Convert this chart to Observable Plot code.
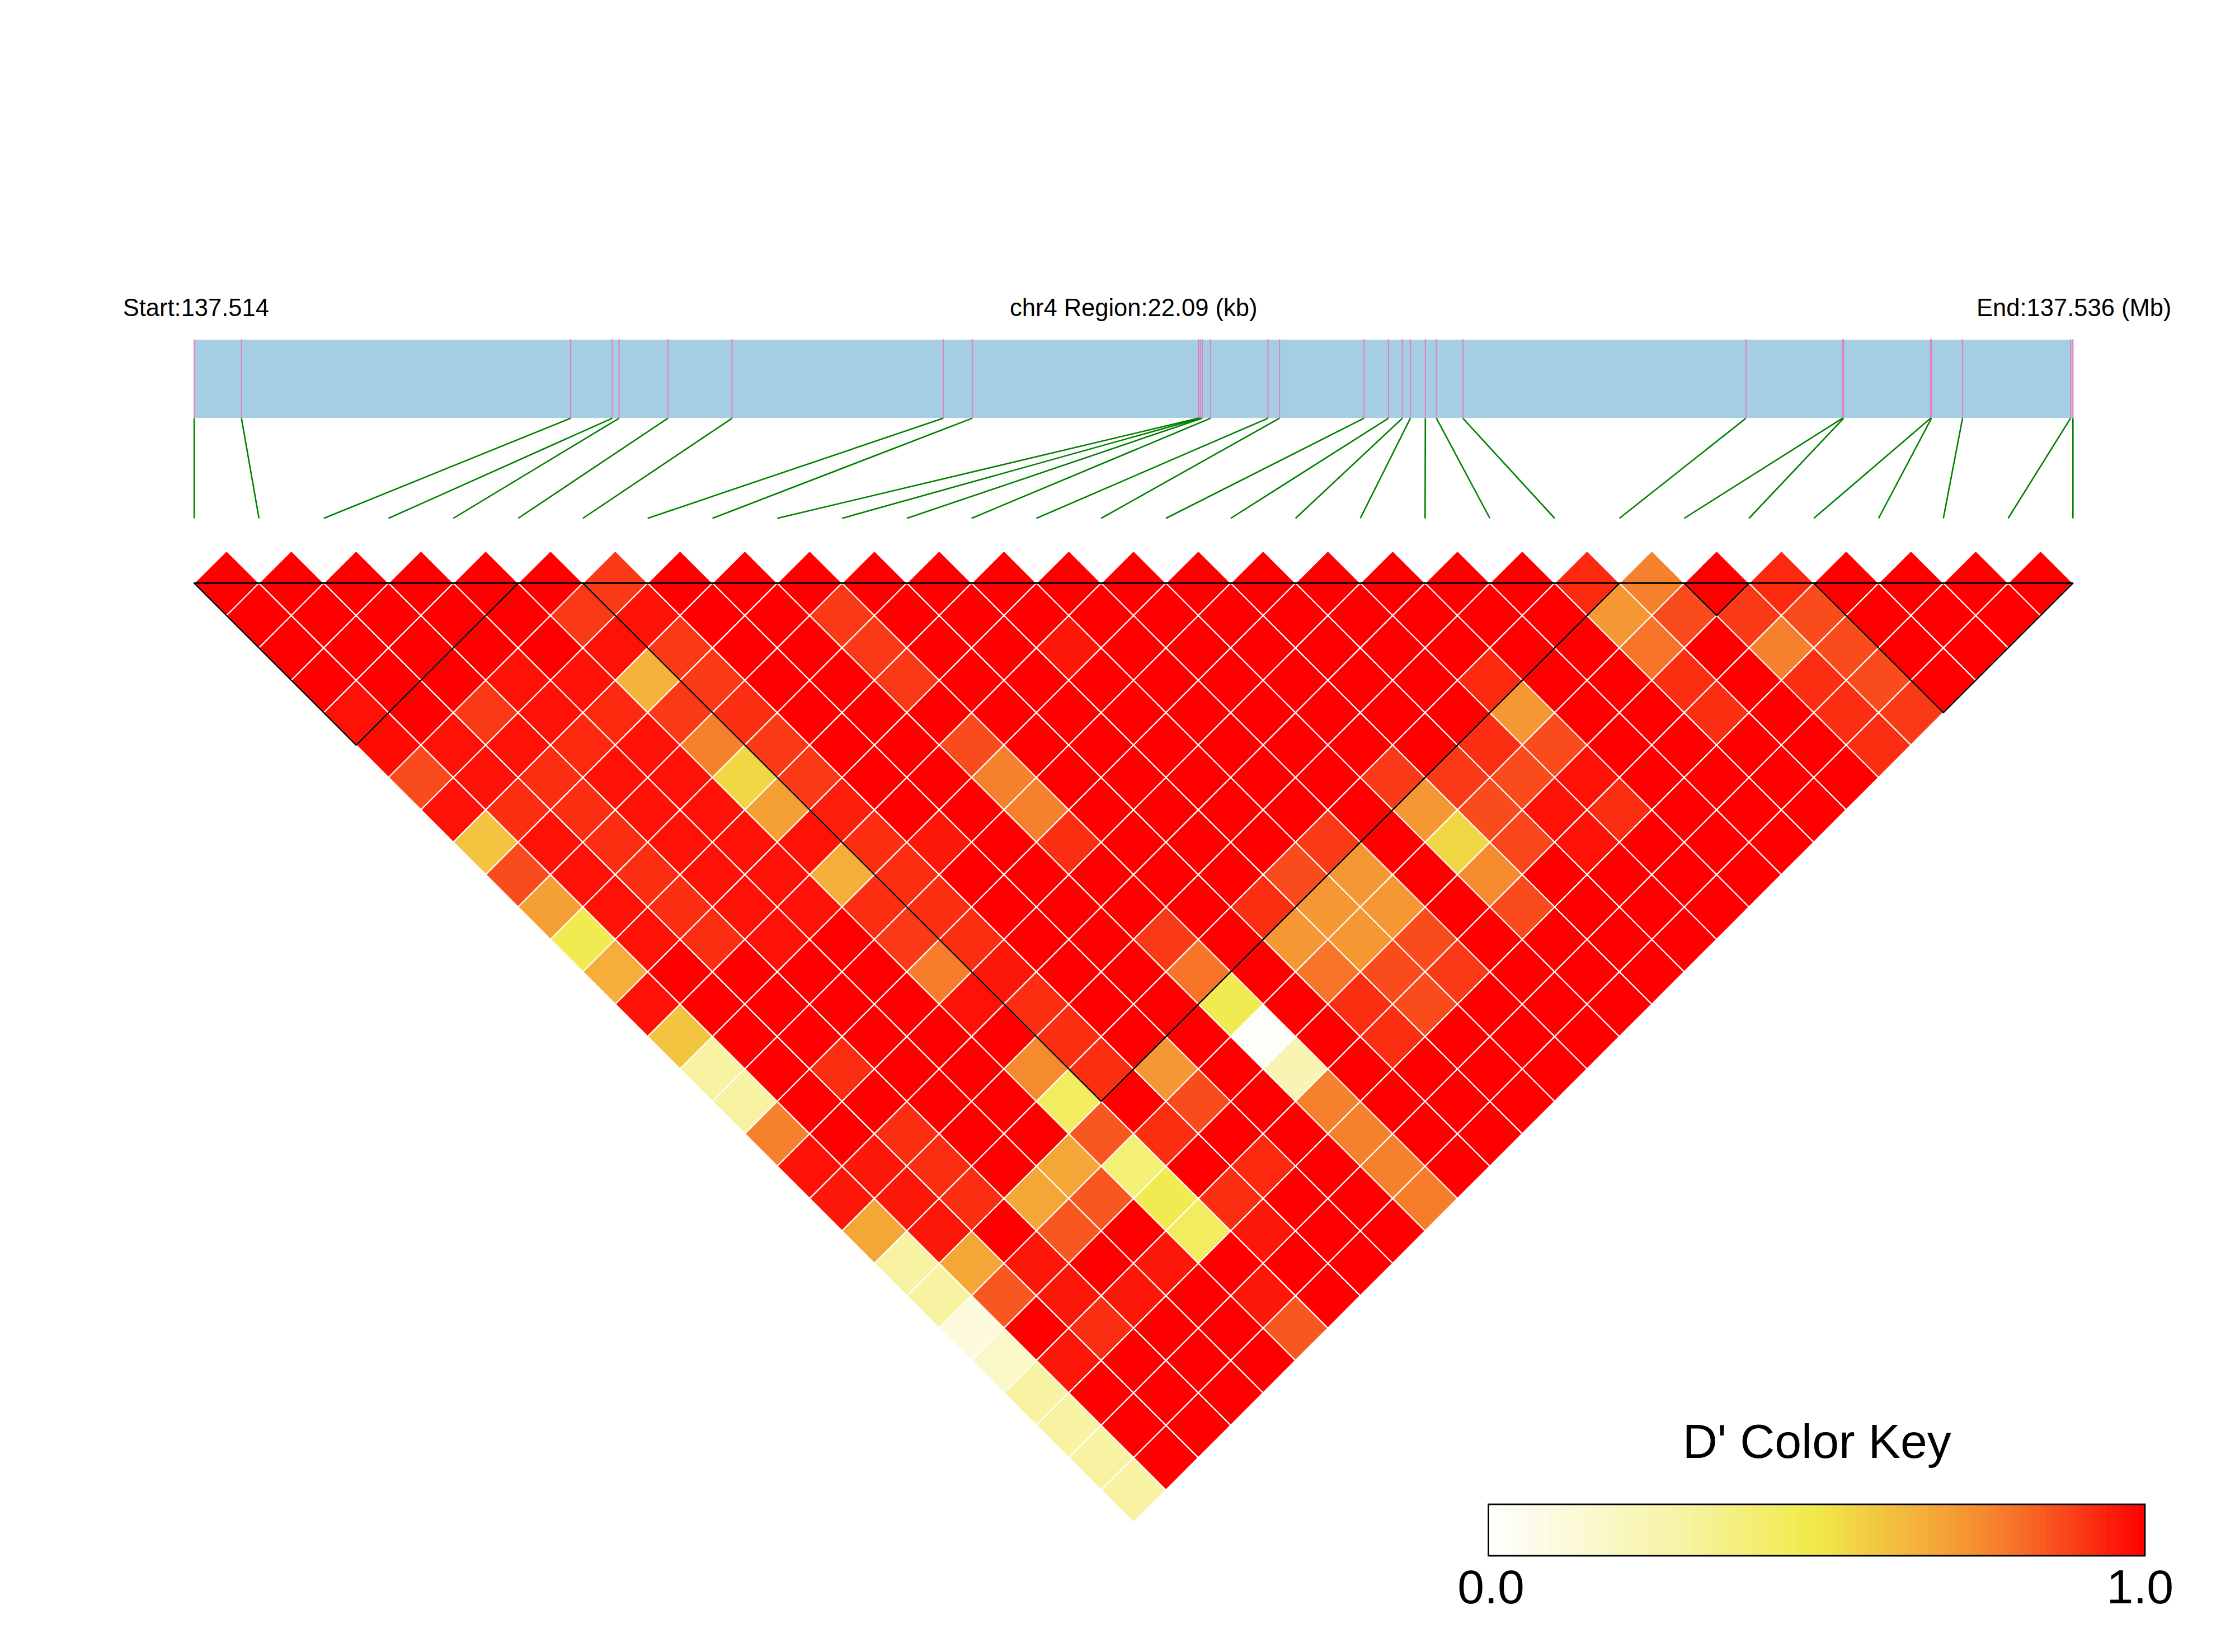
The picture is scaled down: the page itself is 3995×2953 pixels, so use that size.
<!DOCTYPE html>
<html><head><meta charset="utf-8">
<script src="https://cdn.jsdelivr.net/npm/d3@7"></script>
<script src="https://cdn.jsdelivr.net/npm/@observablehq/plot@0.6"></script>
<style>
html,body{margin:0;padding:0;background:#fff;}
#wrap{position:relative;width:3995px;height:2953px;overflow:hidden;background:#fff;}
#main{position:absolute;left:0;top:0;}
#key{position:absolute;left:2550px;top:2450px;}
</style></head><body>
<div id="wrap"><div id="main"></div><div id="key"></div></div>
<script>
// ---- data ----
const regionStartLabel = "Start:137.514";
const regionEndLabel = "End:137.536 (Mb)";
const regionTitle = "chr4 Region:22.09 (kb)";
const regionKb = 22.09;
// SNP genomic positions (kb from region start)
const snpPosKb = [0.00, 0.556, 4.427, 4.916, 4.996, 5.570, 6.325, 8.808, 9.149, 11.807,
  11.830, 11.853, 11.951, 12.626, 12.761, 13.754, 14.042, 14.206, 14.300, 14.476,
  14.606, 14.917, 18.246, 19.381, 19.394, 20.417, 20.427, 20.792, 22.062, 22.090];
// D' values: row i holds pairs (i, j) for j = i+1 .. 29
const dPrimeRows = [
  [1,1,1,1,0.97,0.98,0.87,0.97,0.6,0.87,0.7,0.48,0.66,0.97,0.6,0.3,0.3,0.77,0.97,0.96,0.68,0.3,0.3,0.12,0.18,0.3,0.3,0.3,0.3],
  [1,1,1,1,1,0.97,0.97,0.92,0.97,0.97,0.97,0.97,1,1,1,1,1,1,0.96,0.96,0.96,0.68,0.85,1,0.96,1,1,1],
  [1,1,1,1,0.9,0.97,0.92,0.92,0.92,0.92,0.92,0.92,1,1,1,0.92,1,0.92,0.92,0.92,1,0.96,0.96,0.92,1,1,1],
  [1,1,1,0.97,0.97,0.93,0.97,0.97,0.97,0.97,0.97,0.97,1,1,1,1,1,1,1,0.68,0.85,1,0.96,1,1,1],
  [1,1,1,0.97,0.93,0.97,0.97,0.97,0.97,0.97,0.97,1,1,1,1,1,1,1,0.68,0.85,1,0.96,1,1,1],
  [1,0.9,0.97,0.65,0.9,0.77,0.55,0.7,0.97,0.66,0.92,0.9,0.78,0.97,1,0.75,0.45,0.85,0.4,0.48,0.45,1,0.96,0.85],
  [0.9,0.97,0.9,0.9,0.92,0.9,0.9,0.95,0.92,0.92,0.92,0.92,0.96,0.92,0.92,0.92,1,0.92,1,0.92,0.96,1,1],
  [1,1,1,1,1,1,1,1,0.96,1,1,1,1,1,1,0.72,0.87,1,0.93,1,1,1],
  [1,1,1,1,1,1,1,1,1,1,1,1,1,1,1,1,1,1,1,1,1],
  [1,0.9,0.9,0.9,1,0.87,0.77,0.77,0.92,1,1,0.9,0.8,0.48,0.02,0.25,0.77,0.77,0.77,0.78],
  [1,1,1,1,1,1,1,1,1,1,1,1,1,1,1,1,1,1,1],
  [1,1,1,1,1,1,1,1,1,1,0.92,0.72,0.8,0.92,0.92,1,1,1],
  [1,1,0.96,1,1,1,1,1,1,0.87,0.72,0.72,0.87,0.87,1,1,1],
  [1,1,1,1,1,1,1,1,0.9,0.72,0.72,0.87,0.9,1,1,1],
  [1,1,1,1,1,1,1,1,1,1,1,1,1,1,1],
  [1,1,1,1,1,1,0.9,0.72,0.55,0.75,0.87,1,1,1],
  [1,1,1,1,1,1,0.9,0.87,0.88,1,1,1,1],
  [1,1,1,1,1,0.92,0.87,0.97,0.97,1,1,1],
  [1,1,1,0.93,0.72,0.87,0.97,0.92,1,1,1],
  [1,1,1,1,1,1,1,1,1,1],
  [1,1,1,1,1,1,1,1,1],
  [0.93,0.72,0.8,0.92,0.92,1,1,1],
  [0.77,0.87,1,1,1,1,1],
  [1,0.9,0.77,0.92,0.92,0.92],
  [0.93,0.87,0.87,0.87,0.9],
  [1,1,1,1],
  [1,1,1],
  [1,1],
  [1]
];
// haplotype blocks (first SNP index, last SNP index)
const blockStarts = [0, 6, 23, 25];
const blockEnds   = [5, 22, 24, 29];
// colour key
const keyStops  = [0, 0.3, 0.5, 0.6, 0.7, 0.8, 0.9, 1];
const keyColors = ["#FFFFFF", "#F7F3A2", "#F0EA48", "#F2C440", "#F5A035", "#F77429", "#FA3A16", "#FF0000"];
const keyTicks = [0, 1];
const keyTitle = "D' Color Key";

// ---- derived tables ----
const nSnp = snpPosKb.length;
const snps = snpPosKb.map((p, i) => ({i, x: p / regionKb * (nSnp - 1)}));
const cells = [];
dPrimeRows.forEach((row, i) => row.forEach((v, k) => cells.push({i, j: i + 1 + k, v})));
const diamond = [[0, -0.5], [0.5, 0], [0, 0.5], [-0.5, 0]];
const cellVerts = cells.flatMap(c => {
  const cx = (c.i + c.j) / 2, cy = (c.j - c.i - 1) / 2;
  return diamond.map(([dx, dy]) => ({id: c.i + "-" + c.j, v: c.v, x: cx + dx, y: cy + dy}));
});
const blockVerts = blockStarts.flatMap((a, b) => {
  const e = blockEnds[b];
  return [{b, x: a, y: 0}, {b, x: (a + e) / 2, y: (e - a) / 2}, {b, x: e, y: 0}];
});

const font = "'Liberation Sans', Arial, Helvetica, sans-serif";
const colorScale = {type: "linear", domain: keyStops, range: keyColors, interpolate: "rgb"};

// layout (vertical positions in cell units; 0 = top edge of heatmap)
const mapTop = -3.75, mapBottom = -2.545, linkBottom = -1.0, labelY = -4.125;

const main = Plot.plot({
  width: 3995, height: 2953, margin: 0,
  style: {fontFamily: font, background: "white"},
  x: {domain: [0, nSnp - 1], range: [346.6, 3704.8], axis: null},
  y: {domain: [0, 1], range: [1041.8, 1157.6], axis: null},
  color: colorScale,
  marks: [
    Plot.rect([regionKb], {x1: d => 0, x2: d => nSnp - 1, y1: mapTop, y2: mapBottom, fill: "#A6CEE3"}),
    Plot.ruleX(snps, {x: "x", y1: mapTop - 0.01, y2: mapBottom, stroke: "#DF82BF", strokeWidth: 2.2}),
    Plot.link(snps, {x1: "x", y1: mapBottom, x2: "i", y2: linkBottom, stroke: "#008000", strokeWidth: 2.6}),
    Plot.text([regionStartLabel], {x: -1.1, y: labelY, text: d => d, textAnchor: "start", lineAnchor: "bottom", fontSize: 43.5, fill: "black"}),
    Plot.text([regionTitle], {x: (nSnp - 1) / 2, y: labelY, text: d => d, textAnchor: "middle", lineAnchor: "bottom", fontSize: 43.5, fill: "black"}),
    Plot.text([regionEndLabel], {x: 30.52, y: labelY, text: d => d, textAnchor: "end", lineAnchor: "bottom", fontSize: 43.5, fill: "black"}),
    Plot.line(cellVerts, {x: "x", y: "y", z: "id", fill: "v", stroke: "white", strokeWidth: 2.2, curve: "linear-closed"}),
    Plot.line(blockVerts, {x: "x", y: "y", z: "b", stroke: "black", strokeWidth: 2.4}),
    Plot.ruleY([0], {x1: 0, x2: nSnp - 1, stroke: "black", strokeWidth: 3})
  ]
});
document.getElementById("main").appendChild(main);

const keyBands = d3.range(100).map(k => ({x1: k / 100, x2: (k + 1) / 100, v: (k + 0.5) / 100}));
const key = Plot.plot({
  width: 1445, height: 450, margin: 0,
  style: {fontFamily: font, background: "transparent"},
  x: {domain: [0, 1], range: [110.6, 1283.9], axis: null},
  y: {domain: [0, 450], range: [0, 450], axis: null},
  color: colorScale,
  marks: [
    Plot.rect(keyBands, {x1: "x1", x2: "x2", y1: 239, y2: 331, fill: "v", shapeRendering: "crispEdges"}),
    Plot.rect([keyTitle], {x1: 0, x2: 1, y1: 239, y2: 331, fill: "none", stroke: "black", strokeWidth: 2.8}),
    Plot.text([keyTitle], {x: 0.5, y: 155, text: d => d, textAnchor: "middle", lineAnchor: "bottom", fontSize: 86, fill: "black"}),
    Plot.text([keyTicks[0]], {x: d => d, y: 415, dx: 4, text: d => d.toFixed(1), textAnchor: "middle", lineAnchor: "bottom", fontSize: 86, fill: "black"}),
    Plot.text([keyTicks[1]], {x: d => d, y: 415, dx: -9, text: d => d.toFixed(1), textAnchor: "middle", lineAnchor: "bottom", fontSize: 86, fill: "black"})
  ]
});
document.getElementById("key").appendChild(key);
</script>
</body></html>
